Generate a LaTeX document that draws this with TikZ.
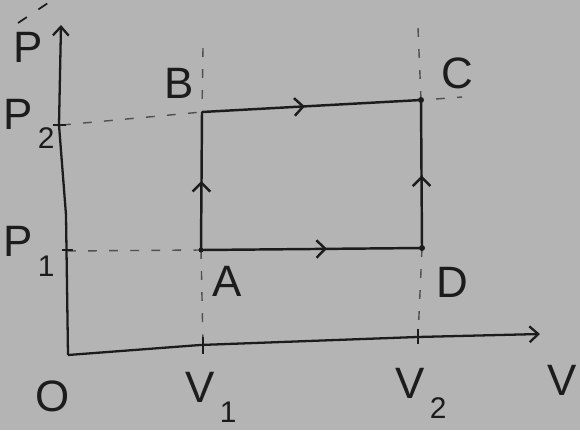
\documentclass[tikz,border=0pt]{standalone}
\usepackage{fontspec}
\setmainfont{Liberation Sans}
\usetikzlibrary{arrows.meta,decorations.markings}
\definecolor{paper}{RGB}{180,180,180}
\definecolor{ink}{RGB}{28,28,28}
\definecolor{guide}{RGB}{80,80,80}
\newcommand{\lowidx}[1]{\kern3pt\raisebox{-0.45em}{\fontsize{17}{17}\selectfont #1}}

\begin{document}
\begin{tikzpicture}[
  x=0.02cm, y=-0.02cm,
  axis/.style = {ink, line width=1.3pt, line join=round, -{Straight Barb[length=5pt,width=9pt]}},
  side/.style = {ink, line width=1.4pt, postaction={decorate},
    decoration={markings, mark=at position #1 with {\arrow{Straight Barb[length=5pt,width=10pt]}}}},
  guideline/.style = {guide, line width=0.8pt, dash pattern=on 5pt off 7pt},
  tick/.style = {ink, line width=1pt},
  lbl/.style = {ink, font=\fontsize{25}{28}\selectfont, inner sep=0pt}
]
  \fill[paper] (0,0) rectangle (580,430);
  \useasboundingbox (0,0) rectangle (580,430);

  % axes
  \coordinate (O)    at (68,355);
  \coordinate (ybend) at (66,215);
  \coordinate (ytip) at (61,25);
  \coordinate (xtip) at (540,334);
  \draw[axis] (O) -- (ybend) -- (59,125) -- (ytip);
  \draw[axis] (O) -- (200,345) -- (417,337) -- (xtip);

  % cycle corners
  \coordinate (A) at (201,250);
  \coordinate (B) at (202,112);
  \coordinate (C) at (421,100);
  \coordinate (D) at (422,248);

  % guide ends
  \coordinate (p2) at (62,125);
  \coordinate (p1) at (67,251);
  \coordinate (v1top) at (203,48);
  \coordinate (v1) at (203,345);
  \coordinate (v2top) at (418,28);
  \coordinate (v2) at (418,337);
  \coordinate (cx1) at (436,99);
  \coordinate (cx2) at (462,97);

  \draw[guideline] (p2) -- (B);
  \draw[guideline] (p1) -- (A);
  \draw[guideline] (v1top) -- (B);
  \draw[guideline] (A) -- (v1);
  \draw[guideline] (v2top) -- (C);
  \draw[guideline] (D) -- (v2);
  \draw[guideline] (cx1) -- (cx2);

  % ticks
  \draw[tick] (53,125) -- (66,125);
  \draw[tick] (62,250) -- (73,250);
  \draw[tick] (203,337) -- (203,354);
  \draw[tick] (418,329) -- (418,344);

  % process
  \draw[side=0.5]  (A) -- (B);
  \draw[side=0.47] (B) -- (C);
  \draw[side=0.57] (A) -- (D);
  \draw[side=0.49] (D) -- (C);
  \fill[ink] (A) circle (2.5) (C) circle (3) (D) circle (3);

  % labels
  \node[lbl] (pl)  at (28,47)  {P};
  \draw[ink, line width=1pt, dash pattern=on 6pt off 8pt] (18,23) -- (48,3);
  \node[lbl] (p2l) at (29,124) {P\lowidx{2}};
  \node[lbl] (p1l) at (29,251) {P\lowidx{1}};
  \node[lbl] (bl)  at (179,83) {B};
  \node[lbl] (cl)  at (457,73) {C};
  \node[lbl] (al)  at (227,281) {A};
  \node[lbl] (dl)  at (452,282) {D};
  \node[lbl] (ol)  at (53,396) {O};
  \node[lbl] (v1l) at (211,397) {V\lowidx{1}};
  \node[lbl] (v2l) at (421,393) {V\lowidx{2}};
  \node[lbl] (vl)  at (562,380) {V};
\end{tikzpicture}
\end{document}
